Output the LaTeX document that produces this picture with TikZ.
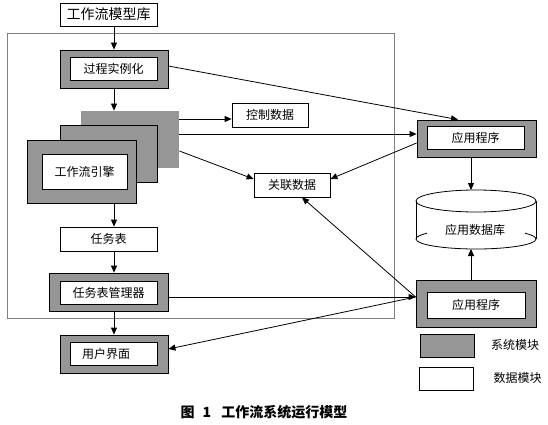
\documentclass[tikz,border=0pt]{standalone}
\usepackage{fontspec}
\setmainfont{Noto Sans CJK SC}
\usepackage{tikz}
\usetikzlibrary{arrows.meta}
\definecolor{modgris}{RGB}{150,150,150}
\def\width{548}
\def\hauteur{425}

\begin{document}
\begin{tikzpicture}[x=1pt, y=-1pt, line width=0.8pt, font=\fontsize{12}{14}\selectfont,
	donnee/.style={draw, fill=white, inner sep=0pt},
	systeme/.style={draw, fill=modgris, inner sep=0pt},
	fleche/.style={-{Triangle[length=7pt,width=6pt]}},
	flecheinv/.style={{Triangle[length=7pt,width=6pt]}-}]
	\useasboundingbox (0,0) rectangle (\width,\hauteur);
	%\draw[step=10, line width=0.1pt, black!20!white] (0,0) grid (\width,\hauteur);
	\draw[gray, line width=0.6pt] (7,33) rectangle (394,318);
	\node[donnee, minimum width=97, minimum height=23, font=\fontsize{14}{16}\selectfont] (lib) at (108.5,14.5) {工作流模型库};
	\node[systeme, minimum width=108, minimum height=38] (instS) at (114,69) {};
	\node[donnee, minimum width=87, minimum height=23] (inst) at (113.5,68.5) {过程实例化};
	\node[fill=modgris, minimum width=98, minimum height=57, inner sep=0pt] (moteur3) at (130,139.5) {};
	\node[systeme, minimum width=97, minimum height=57] (moteur2) at (108.5,153.5) {};
	\node[systeme, minimum width=109, minimum height=63] (moteurS) at (81.5,171.5) {};
	\node[donnee, minimum width=85, minimum height=35] (moteur) at (84.5,171.5) {工作流引擎};
	\node[donnee, minimum width=76, minimum height=24] (ctrl) at (270,115) {控制数据};
	\node[donnee, minimum width=76, minimum height=24] (assoc) at (292,185) {关联数据};
	\node[systeme, minimum width=119, minimum height=37] (app1S) at (476.5,138.5) {};
	\node[donnee, minimum width=97, minimum height=23] (app1) at (475.5,137.5) {应用程序};
	\node[donnee, minimum width=97, minimum height=24] (tache) at (108.5,239) {任务表};
	\node[systeme, minimum width=119, minimum height=38] (gestS) at (108.5,292) {};
	\node[donnee, minimum width=97, minimum height=23] (gest) at (108.5,292.5) {任务表管理器};
	\node[systeme, minimum width=108, minimum height=38] (uiS) at (114,354) {};
	\node[donnee, minimum width=87, minimum height=23, text width=63, align=left] (ui) at (113.5,353.5) {用户界面};
	\node[systeme, minimum width=120, minimum height=47] (app2S) at (476,303.5) {};
	\node[donnee, minimum width=98, minimum height=26] (app2) at (476,305) {应用程序};
	% base de donnees
	\draw[fill=white] (476,201) ellipse [x radius=60, y radius=11];
	\draw (416,201) -- (416,239) (536,201) -- (536,239);
	\draw (416,239) arc[start angle=180, end angle=0, x radius=60, y radius=10];
	\draw (416,239) arc[start angle=180, end angle=215, x radius=60, y radius=10];
	\draw (536,239) arc[start angle=0, end angle=-35, x radius=60, y radius=10];
	\node (bd) at (475,230) {应用数据库};
	\coordinate (bdhaut) at (471,190);
	\coordinate (bdbas) at (471,249);
	% fleches
	\draw[fleche] ([xshift=5.5pt]lib.south) -- (instS.north);
	\draw[fleche] (instS.south) -- ([xshift=-16pt]moteur3.north);
	\draw[fleche] ([yshift=20.5pt]moteur3.east) -- ([yshift=-4pt]ctrl.west);
	\draw[fleche] ([yshift=5.5pt]moteur3.east) -- ([yshift=4.5pt]app1S.west);
	\draw[fleche] ([yshift=-11.5pt]moteur3.east) -- ([yshift=6pt]assoc.west);
	\draw[fleche] ([yshift=3pt]instS.east) -- ([xshift=-18.5pt]app1S.north);
	\draw[fleche] ([yshift=-4.5pt]app1S.west) -- ([yshift=6pt]assoc.east);
	\draw[fleche] ([xshift=-5.5pt]app1S.south) -- (bdhaut);
	\draw[fleche] ([xshift=-5pt]app2S.north) -- (bdbas);
	\draw[fleche] ([xshift=32.5pt]moteurS.south) -- ([xshift=5.5pt]tache.north);
	\draw[fleche] ([xshift=5.5pt]tache.south) -- ([xshift=5.5pt]gestS.north);
	\draw[fleche] ([xshift=5.5pt]gestS.south) -- (uiS.north);
	\draw[fleche] ([yshift=-5pt]gestS.east) -- ([yshift=6.5pt]app2S.west);
	\draw[flecheinv] ([yshift=5pt]uiS.east) -- ([yshift=6.5pt]app2S.west);
	\draw[flecheinv] ([xshift=10pt]assoc.south) -- ([yshift=6.5pt]app2S.west);
	% legende
	\node[systeme, minimum width=54, minimum height=23] (legS) at (447,345.5) {};
	\node (legStxt) at (515,345) {系统模块};
	\node[donnee, minimum width=54, minimum height=23] (legD) at (446,378.5) {};
	\node (legDtxt) at (517.5,378) {数据模块};
	\node[font=\fontsize{14}{16}\selectfont\bfseries] (titre) at (264,412) {图\hspace{8pt}1\hspace{10pt}工作流系统运行模型};
\end{tikzpicture}
\end{document}
